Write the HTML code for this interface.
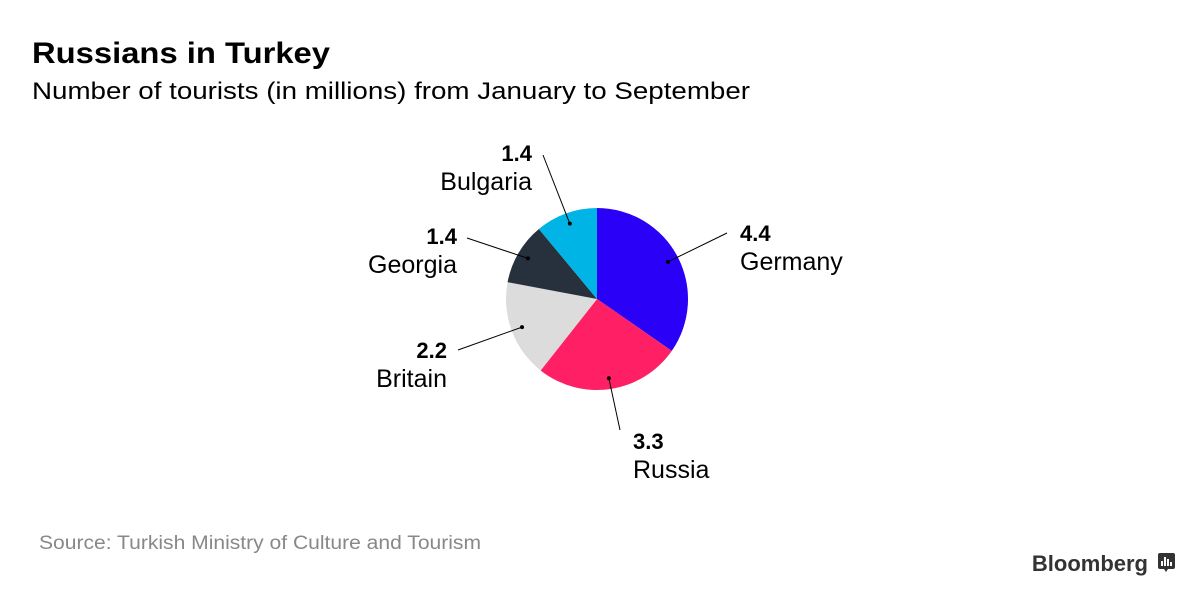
<!DOCTYPE html>
<html><head><meta charset="utf-8"><style>
body{margin:0;width:1200px;height:600px;background:#fff;overflow:hidden;font-family:"Liberation Sans",sans-serif}
</style></head><body>
<svg id="chart" width="1200" height="600" xmlns="http://www.w3.org/2000/svg">
<text x="32" y="63" font-size="30" font-weight="bold" fill="#000" textLength="298" lengthAdjust="spacingAndGlyphs">Russians in Turkey</text>
<text x="32" y="99" font-size="24" fill="#000" textLength="718" lengthAdjust="spacingAndGlyphs">Number of tourists (in millions) from January to September</text>
<text x="39" y="549" font-size="19" fill="#888" textLength="442" lengthAdjust="spacingAndGlyphs">Source: Turkish Ministry of Culture and Tourism</text>
<text x="1148" y="571" font-size="22" font-weight="bold" fill="#333" text-anchor="end">Bloomberg</text>
<g>
<rect x="1158" y="553" width="17" height="16" rx="2" fill="#333"/>
<polygon points="1164,569 1168,569 1166,572" fill="#333"/>
<rect x="1161" y="561" width="2" height="5" fill="#fff"/><rect x="1164" y="557" width="2" height="9" fill="#fff"/><rect x="1167" y="559" width="2" height="7" fill="#fff"/><rect x="1170" y="562" width="2" height="4" fill="#fff"/>
</g>
<g id="slices"></g><g id="labels"></g>
</svg>
<script>
const categories=["Germany","Russia","Britain","Georgia","Bulgaria"];
const values=[4.4,3.3,2.2,1.4,1.4];
const valueLabels=["4.4","3.3","2.2","1.4","1.4"];
const colors=["#2a00f6","#fe1f64","#dcdcdc","#27313d","#00b5e6"];
// label layout (not data): line end & text anchor per slice
const labelLayout=[{lx:727,ly:233,tx:740,ty:241,a:"start"},{lx:620,ly:430,tx:633,ty:449,a:"start"},{lx:458,ly:350,tx:447,ty:358,a:"end"},{lx:467,ly:238,tx:457,ty:244,a:"end"},{lx:543,ly:155,tx:532,ty:161,a:"end"}];
const cx=597,cy=299,r=91,NS="http://www.w3.org/2000/svg";
const total=values.reduce((a,b)=>a+b,0);
const pt=(ang,rad)=>[cx+rad*Math.sin(ang),cy-rad*Math.cos(ang)];
let start=0;
const sg=document.getElementById('slices'),lg=document.getElementById('labels');
values.forEach((v,i)=>{
 const end=start+v/total*2*Math.PI;
 const [x1,y1]=pt(start,r),[x2,y2]=pt(end,r);
 const p=document.createElementNS(NS,'path');
 p.setAttribute('d',`M${cx},${cy}L${x1},${y1}A${r},${r} 0 ${end-start>Math.PI?1:0} 1 ${x2},${y2}Z`);
 p.setAttribute('fill',colors[i]);
 
 
 sg.appendChild(p);
 const mid=(start+end)/2,[dx,dy]=pt(mid,r*0.88),L=labelLayout[i];
 const ln=document.createElementNS(NS,'line');
 ln.setAttribute('x1',dx);ln.setAttribute('y1',dy);ln.setAttribute('x2',L.lx);ln.setAttribute('y2',L.ly);
 ln.setAttribute('stroke','#000');ln.setAttribute('stroke-width','1');
 
 
 lg.appendChild(ln);
 const c=document.createElementNS(NS,'circle');
 c.setAttribute('cx',dx);c.setAttribute('cy',dy);c.setAttribute('r','2');c.setAttribute('fill','#000');
 
 
 lg.appendChild(c);
 const t1=document.createElementNS(NS,'text');
 t1.setAttribute('x',L.tx);t1.setAttribute('y',L.ty);t1.setAttribute('text-anchor',L.a);
 t1.setAttribute('font-size','22');t1.setAttribute('font-weight','bold');t1.textContent=valueLabels[i];
 
 
 lg.appendChild(t1);
 const t2=document.createElementNS(NS,'text');
 t2.setAttribute('x',L.tx);t2.setAttribute('y',L.ty+29);t2.setAttribute('text-anchor',L.a);
 t2.setAttribute('font-size','25');t2.textContent=categories[i];
 
 
 lg.appendChild(t2);
 start=end;
});
</script>
</body></html>
